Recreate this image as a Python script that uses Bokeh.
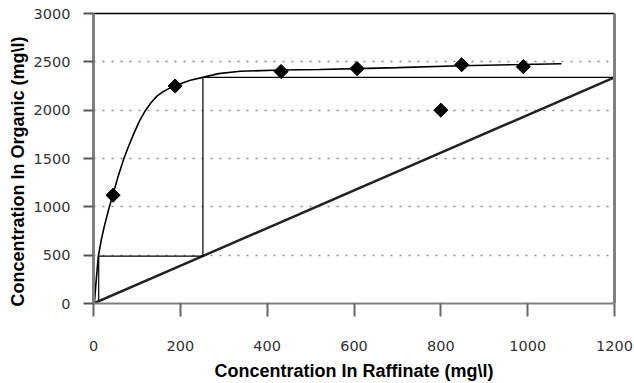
import math
from bokeh.plotting import figure
from bokeh.models import LinearAxis, FixedTicker, Range1d, Title
from bokeh.embed import file_html
from bokeh.resources import INLINE

# Experimental equilibrium data
data_x = [45, 188, 432, 607, 800, 848, 990]
data_y = [1120, 2250, 2400, 2430, 2000, 2470, 2450]

# Fitted equilibrium curve
curve_x = [2, 6, 11, 18, 25, 35, 45, 57, 70, 82, 93, 106, 120, 133, 146, 158, 170, 189, 223, 254, 288, 338, 432, 520, 607, 700, 846, 989, 1078]
curve_y = [0, 230, 485, 660, 800, 975, 1130, 1320, 1500, 1640, 1760, 1890, 2000, 2080, 2145, 2185, 2215, 2255, 2310, 2342, 2378, 2402, 2415, 2420, 2430, 2440, 2460, 2472, 2480]

# Operating line
op_x = [0, 1200]
op_y = [0, 2340]

# McCabe-Thiele steps
step_x = [1200, 252, 252, 12, 12]
step_y = [2340, 2340, 491, 491, 23]

x_ticks = [0, 200, 400, 600, 800, 1000, 1200]
y_ticks = [0, 500, 1000, 1500, 2000, 2500, 3000]

p = figure(width=634, height=383, output_backend="svg", toolbar_location=None,
           x_range=Range1d(0, 1200), y_range=Range1d(0, 3000),
           min_border_left=93, min_border_right=20, min_border_top=13, min_border_bottom=79)
p.outline_line_color = None
p.background_fill_color = "white"
p.border_fill_color = "white"

p.xgrid.visible = False
p.ygrid.ticker = FixedTicker(ticks=y_ticks)
p.ygrid.grid_line_color = "#8a8a8a"
p.ygrid.grid_line_dash = "2 7"
p.ygrid.grid_line_width = 1.5

font = "Liberation Sans"
tick_font = "DejaVu Sans"
xa = p.xaxis[0]
xa.ticker = FixedTicker(ticks=x_ticks)
xa.axis_label = "Concentration In Raffinate (mg\\l)"
xa.axis_label_text_font = font
xa.axis_label_text_font_style = "bold"
xa.axis_label_text_font_size = "18px"
xa.axis_label_text_color = "black"
xa.axis_label_standoff = 7
xa.major_label_text_font = tick_font
xa.major_label_text_font_size = "14.5px"
xa.major_label_text_color = "#333333"
xa.major_label_standoff = 24
xa.major_tick_out = 13
xa.major_tick_in = 0
xa.major_tick_line_width = 2
xa.major_tick_line_color = "#666666"
xa.minor_tick_line_color = None
xa.axis_line_color = "#808080"
xa.axis_line_width = 2

ya = p.yaxis[0]
ya.ticker = FixedTicker(ticks=y_ticks)
ya.major_label_text_font = tick_font
ya.major_label_text_font_size = "14.5px"
ya.major_label_text_color = "#333333"
ya.major_label_standoff = 13
ya.major_tick_out = 10
ya.major_tick_in = 0
ya.major_tick_line_width = 2
ya.major_tick_line_color = "#555555"
ya.minor_tick_line_color = None
ya.axis_line_color = "#808080"
ya.axis_line_width = 3

ytitle = Title(text="Concentration In Organic (mg\\l)", align="left", offset=-3,
               text_font=font, text_font_style="bold", text_font_size="18px",
               text_color="black", standoff=6)
p.add_layout(ytitle, "left")

right = LinearAxis(ticker=FixedTicker(ticks=[]), major_tick_line_color=None,
                   minor_tick_line_color=None, major_label_text_font_size="0px",
                   axis_line_color="#808080", axis_line_width=3)
p.add_layout(right, "right")
top = LinearAxis(ticker=FixedTicker(ticks=[]), major_tick_line_color=None,
                 minor_tick_line_color=None, major_label_text_font_size="0px",
                 axis_line_color="black", axis_line_width=1.5)
p.add_layout(top, "above")

p.line(op_x, op_y, line_color="#222222", line_width=2.5)
p.line(step_x, step_y, line_color="black", line_width=1.2)
p.line(curve_x, curve_y, line_color="black", line_width=1.6)
p.scatter(data_x, data_y, marker="square", angle=math.pi / 4, size=10,
          fill_color="black", line_color="black")

open("out.html", "w").write(file_html(p, INLINE))
